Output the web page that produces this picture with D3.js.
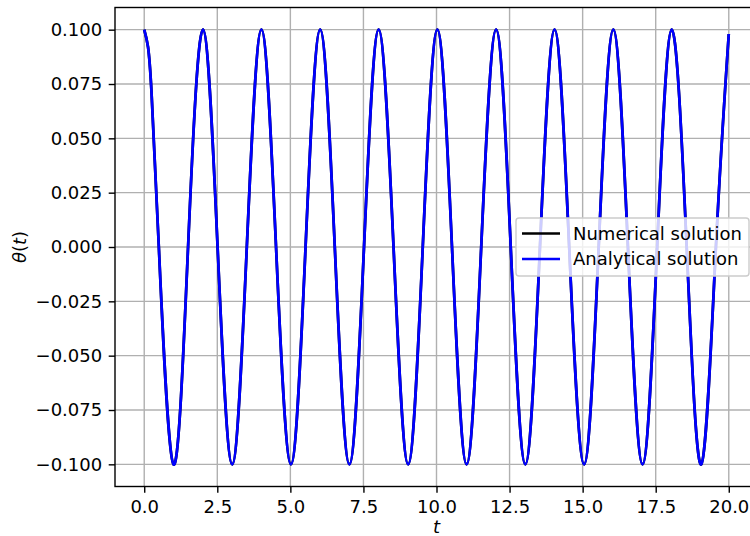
<!DOCTYPE html>
<html>
<head>
<meta charset="utf-8">
<script src="https://cdn.jsdelivr.net/npm/d3@7"></script>
<style>
  body { margin: 0; background: #fff; }
  svg { font-family: "DejaVu Sans", sans-serif; }
</style>
</head>
<body>
<svg id="chart"></svg>
<script>
const width = 750;
const height = 536;
const margin = {left: 115, right: -8, top: 7.5, bottom: 49.5};
const fontSize = 18;

// samples: peaks, zero crossings, troughs
const tValues = [0, 0.13, 0.25, 0.50, 1.00, 1.50, 2.01, 2.51, 3.01, 3.51, 4.01, 4.51,
  5.02, 5.52, 6.02, 6.52, 7.02, 7.52, 8.02, 8.53, 9.03, 9.53,
  10.03, 10.53, 11.03, 11.53, 12.04, 12.54, 13.04, 13.54, 14.04, 14.54,
  15.05, 15.55, 16.05, 16.55, 17.05, 17.55, 18.05, 18.56, 19.06, 19.56, 20.0];
const analyticalTheta = [0.1, 0.092, 0.071, 0, -0.1, 0, 0.1, 0, -0.1, 0, 0.1, 0,
  -0.1, 0, 0.1, 0, -0.1, 0, 0.1, 0, -0.1, 0,
  0.1, 0, -0.1, 0, 0.1, 0, -0.1, 0, 0.1, 0,
  -0.1, 0, 0.1, 0, -0.1, 0, 0.1, 0, -0.1, 0, 0.098];
const numericalTheta = [0.1, 0.092, 0.071, 0, -0.1, 0, 0.1, 0, -0.1, 0, 0.1, 0,
  -0.1, 0, 0.1, 0, -0.1, 0, 0.1, 0, -0.1, 0,
  0.1, 0, -0.1, 0, 0.1, 0, -0.1, 0, 0.1, 0,
  -0.1, 0, 0.1, 0, -0.1, 0, 0.1, 0, -0.1, 0, 0.098];
const xTicks = [0, 2.5, 5, 7.5, 10, 12.5, 15, 17.5, 20];
const yTicks = [-0.1, -0.075, -0.05, -0.025, 0, 0.025, 0.05, 0.075, 0.1];
const seriesNames = ['Numerical solution', 'Analytical solution'];
const seriesColors = ['#000000', '#0000ff'];

const svg = d3.select('#chart').attr('width', width).attr('height', height);

const x = d3.scaleLinear().domain([-1, 21]).range([margin.left, width - margin.right]);
const y = d3.scaleLinear().domain([-0.1102, 0.1102]).range([height - margin.bottom, margin.top]);

// grid
svg.append('g').selectAll('line').data(xTicks).enter().append('line')
  .attr('x1', d => x(d)).attr('x2', d => x(d))
  .attr('y1', margin.top).attr('y2', height - margin.bottom)
  .attr('stroke', '#b0b0b0').attr('stroke-width', 1.4);
svg.append('g').selectAll('line').data(yTicks).enter().append('line')
  .attr('x1', margin.left).attr('x2', width - margin.right)
  .attr('y1', d => y(d)).attr('y2', d => y(d))
  .attr('stroke', '#b0b0b0').attr('stroke-width', 1.4);

const data = tValues.map((t, i) => ({t: t, num: numericalTheta[i], ana: analyticalTheta[i]}));

svg.append('path').datum(data)
  .attr('fill', 'none').attr('stroke', seriesColors[0]).attr('stroke-width', 2.7)
  .attr('d', d3.line().x(d => x(d.t)).y(d => y(d.num)).curve(d3.curveNatural));
svg.append('path').datum(data)
  .attr('fill', 'none').attr('stroke', seriesColors[1]).attr('stroke-width', 2.7)
  .attr('d', d3.line().x(d => x(d.t)).y(d => y(d.ana)).curve(d3.curveNatural));

// axes
const xAxis = svg.append('g')
  .attr('transform', `translate(0, ${height - margin.bottom})`)
  .call(d3.axisBottom(x).tickValues(xTicks).tickFormat(d3.format('.1f')).tickSizeOuter(0).tickSize(6.3));
const yAxis = svg.append('g')
  .attr('transform', `translate(${margin.left}, 0)`)
  .call(d3.axisLeft(y).tickValues(yTicks).tickFormat(d3.format('.3f')).tickSizeOuter(0).tickSize(6.3).tickPadding(6.5));
[xAxis, yAxis].forEach(a => {
  a.select('.domain').remove();
  a.selectAll('line').attr('stroke', '#000').attr('stroke-width', 1.4);
  a.selectAll('text').attr('font-size', fontSize).attr('fill', '#000')
    .attr('font-family', '"DejaVu Sans", sans-serif');
});
xAxis.selectAll('text').attr('y', 26.5).attr('dy', 0);
yAxis.selectAll('text').text(d => d3.format('.3f')(d).replace('-', '\u2212'));

// spines
svg.append('rect')
  .attr('x', margin.left).attr('y', margin.top)
  .attr('width', width - margin.right - margin.left)
  .attr('height', height - margin.bottom - margin.top)
  .attr('fill', 'none').attr('stroke', '#000').attr('stroke-width', 1.4);

// labels
svg.append('text').attr('x', x(10)).attr('y', 533)
  .attr('text-anchor', 'middle').attr('font-size', fontSize).attr('font-style', 'italic').text('t');
const yl = svg.append('text')
  .attr('transform', `translate(26, ${(margin.top + height - margin.bottom) / 2}) rotate(-90)`)
  .attr('text-anchor', 'middle').attr('font-size', fontSize);
yl.append('tspan').attr('font-style', 'italic').text('θ');
yl.append('tspan').text('(');
yl.append('tspan').attr('font-style', 'italic').text('t');
yl.append('tspan').text(')');

// legend
const legend = svg.append('g').attr('transform', 'translate(516, 218)');
legend.append('rect')
  .attr('width', 233).attr('height', 58).attr('rx', 3)
  .attr('fill', '#fff').attr('fill-opacity', 0.8)
  .attr('stroke', '#cccccc').attr('stroke-width', 1.4);
seriesNames.forEach((name, i) => {
  const ly = 15.5 + i * 25.5;
  legend.append('line').attr('x1', 6).attr('x2', 44).attr('y1', ly).attr('y2', ly)
    .attr('stroke', seriesColors[i]).attr('stroke-width', 2.7);
  legend.append('text').attr('x', 57).attr('y', ly).attr('dy', '0.35em')
    .attr('font-size', fontSize).attr('fill', '#000').text(name);
});
</script>
</body>
</html>
